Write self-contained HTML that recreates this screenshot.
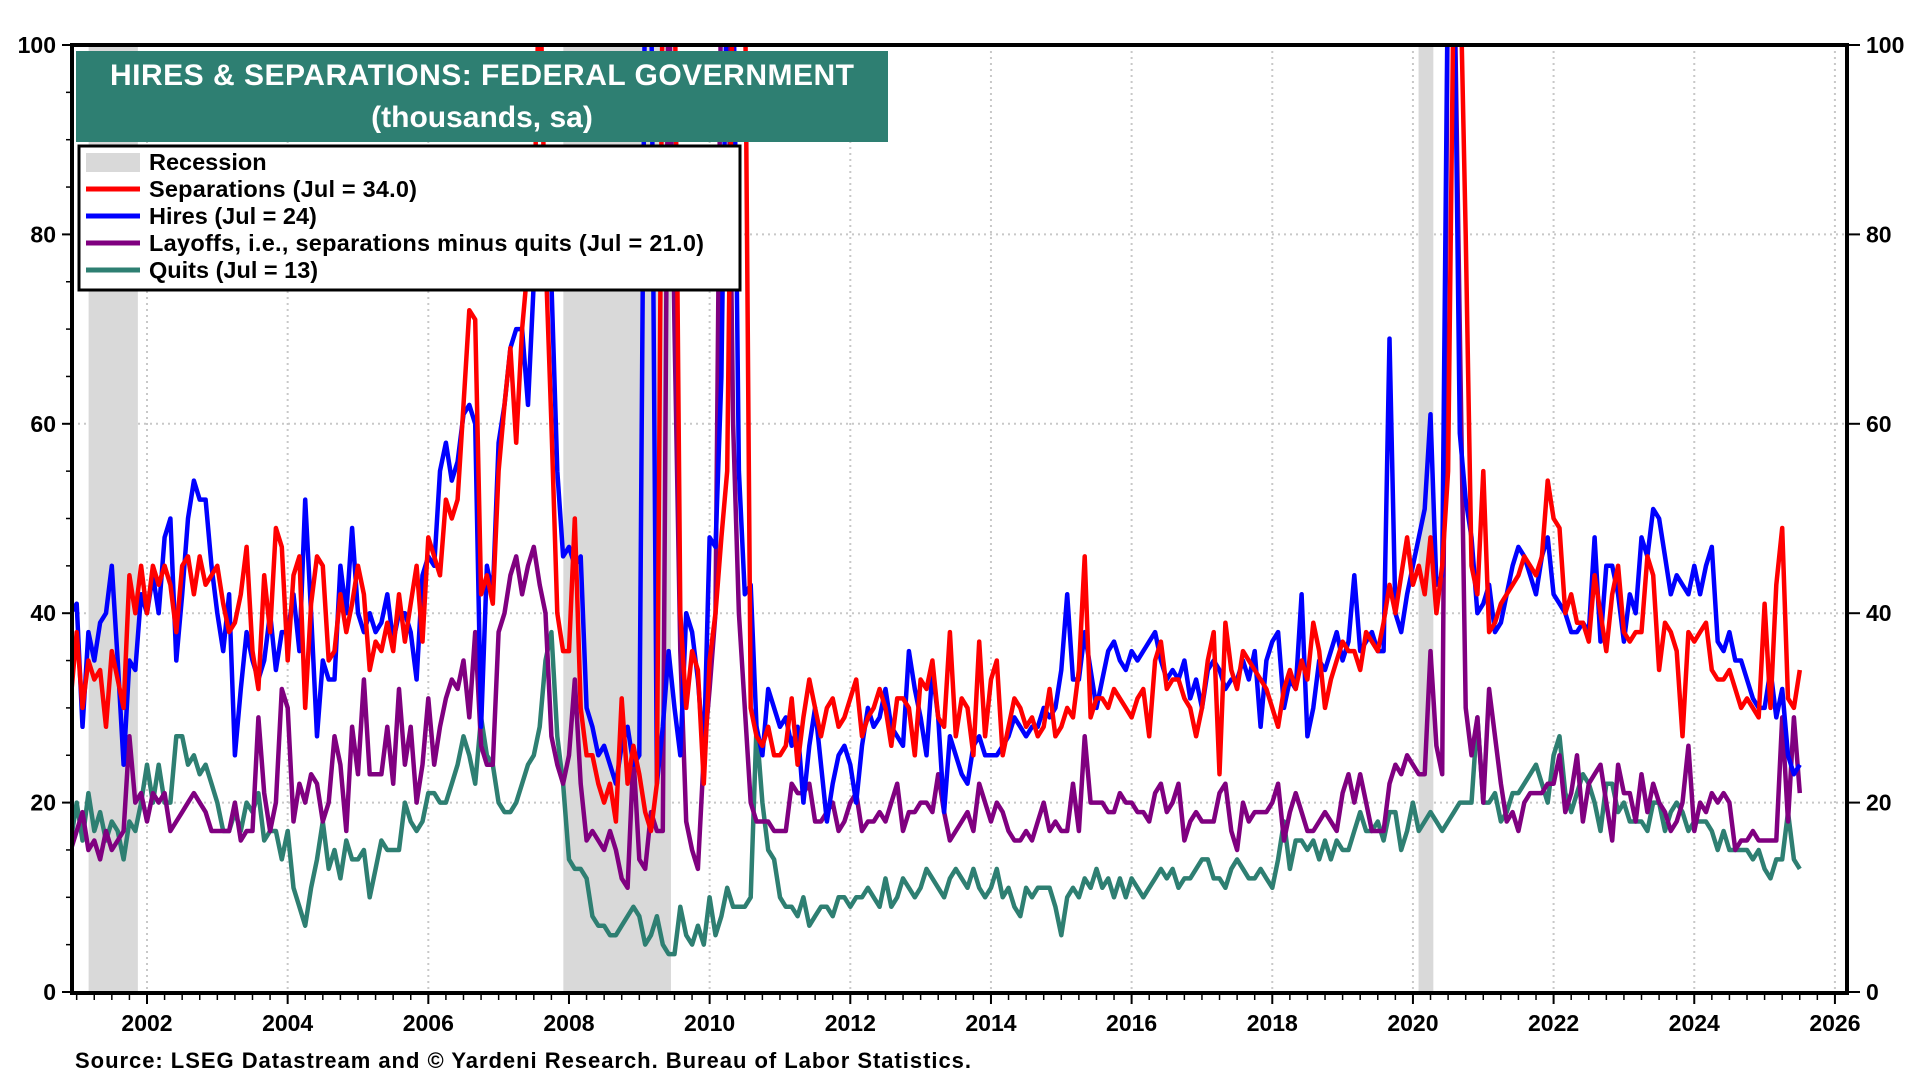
<!DOCTYPE html>
<html><head><meta charset="utf-8"><style>
html,body{margin:0;padding:0;background:#fff;}
svg text{font-family:"Liberation Sans",Arial,sans-serif;font-weight:bold;}
</style></head><body>
<svg id="chart" width="1920" height="1080" viewBox="0 0 1920 1080" xmlns="http://www.w3.org/2000/svg">
<defs><clipPath id="plotclip"><rect x="72" y="45" width="1775" height="948"/></clipPath></defs>
<g id="grid"></g>
<g id="rec" clip-path="url(#plotclip)"></g>
<g id="series" clip-path="url(#plotclip)"></g>
<rect x="72" y="45" width="1775" height="948" fill="none" stroke="#000" stroke-width="4"/>
<g id="axes"></g>
<rect x="76" y="51" width="812" height="91" fill="#2e7f72"/>
<text x="482" y="85" text-anchor="middle" fill="#fff" font-size="30" textLength="744">HIRES &amp; SEPARATIONS: FEDERAL GOVERNMENT</text>
<text x="482" y="127" text-anchor="middle" fill="#fff" font-size="30">(thousands, sa)</text>
<g>
<rect x="79" y="146" width="661" height="144" fill="#fff" stroke="#000" stroke-width="3"/>
<rect x="86" y="153" width="54" height="19" fill="#d9d9d9"/>
<text x="149" y="170" font-size="23.5">Recession</text>
<line x1="86" y1="189" x2="140" y2="189" stroke="#ff0000" stroke-width="5"/>
<text x="149" y="197" font-size="23.5" textLength="268">Separations (Jul = 34.0)</text>
<line x1="86" y1="216" x2="140" y2="216" stroke="#0000ff" stroke-width="5"/>
<text x="149" y="224" font-size="23.5">Hires (Jul = 24)</text>
<line x1="86" y1="243" x2="140" y2="243" stroke="#800080" stroke-width="5"/>
<text x="149" y="251" font-size="23.5" textLength="555">Layoffs, i.e., separations minus quits (Jul = 21.0)</text>
<line x1="86" y1="270" x2="140" y2="270" stroke="#2e7f72" stroke-width="5"/>
<text x="149" y="278" font-size="23.5">Quits (Jul = 13)</text>
</g>
<text x="75" y="1068" font-size="22" textLength="896">Source: LSEG Datastream and © Yardeni Research. Bureau of Labor Statistics.</text>
</svg>
<script>
// monthly data starting Dec 2000
const startYear = 2000 + 11/12;
const hires = [40,
41,28,38,35,39,40,45,35,24,35,34,42,
40,44,40,48,50,35,42,50,54,52,52,45,
40,36,42,25,32,38,35,33,35,40,34,38,
38,42,36,52,40,27,35,33,33,45,40,49,
40,38,40,38,39,42,37,40,40,38,33,44,
46,45,55,58,54,56,61,62,60,28,45,42,
58,62,68,70,70,62,75,80,85,75,55,46,
47,45,46,30,28,25,26,24,22,26,28,24,
25,110,110,22,28,36,30,25,40,38,33,25,
48,47,65,110,110,55,42,43,28,25,32,30,
28,29,26,28,20,26,30,24,18,22,25,26,
24,20,26,30,28,29,32,28,27,26,36,32,
29,25,34,29,19,27,25,23,22,26,27,25,
25,25,26,27,29,28,27,28,28,30,29,30,
34,42,33,33,38,34,30,33,36,37,35,34,
36,35,36,37,38,35,33,34,33,35,31,33,
30,34,35,34,32,33,33,35,33,36,28,35,
37,38,30,33,32,42,27,30,35,34,36,38,
35,37,44,36,37,38,36,36,69,40,38,42,
45,48,51,61,43,44,110,110,59,52,48,40,
41,43,38,39,42,45,47,46,44,42,46,48,
42,41,40,38,38,39,38,48,37,45,45,42,
37,42,40,48,46,51,50,46,42,44,43,42,
45,42,45,47,37,36,38,35,35,33,31,30,
30,34,29,32,25,23,24];
const separations = [31,
38,30,35,33,34,28,36,33,30,44,40,45,
40,45,43,45,43,38,45,46,42,46,43,44,
45,41,38,39,42,47,36,32,44,38,49,47,
35,44,46,30,41,46,45,35,36,42,38,41,
45,42,34,37,36,39,36,42,37,41,45,37,
48,46,44,52,50,52,62,72,71,42,44,41,
55,62,68,58,70,77,80,110,78,60,40,36,
36,50,30,25,25,22,20,22,18,31,22,26,
23,19,17,22,110,110,110,40,30,36,34,22,
35,40,48,55,110,110,110,30,27,26,28,25,
25,26,31,24,29,33,30,27,30,31,28,29,
31,33,27,29,30,32,30,26,31,31,30,25,
33,32,35,29,28,38,27,31,30,25,37,27,
33,35,25,28,31,30,28,29,27,28,32,27,
28,30,29,34,46,29,31,31,30,32,31,30,
29,31,32,27,35,37,32,33,33,31,30,27,
30,35,38,23,39,34,32,36,35,34,33,32,
30,28,32,34,32,35,33,39,36,30,33,35,
37,36,36,34,38,37,36,39,43,40,44,48,
43,45,42,48,40,45,55,110,110,80,45,42,
55,38,39,41,42,43,44,46,45,44,46,54,
50,49,40,42,39,39,37,44,40,36,42,45,
38,37,38,38,46,44,34,39,38,36,27,38,
37,38,39,34,33,33,34,32,30,31,30,29,
41,30,43,49,31,30,34];
const layoffs = [15,
17,19,15,16,14,17,15,16,17,27,20,21,
18,21,20,21,17,18,19,20,21,20,19,17,
17,17,17,20,16,17,17,29,21,17,20,32,
30,18,22,20,23,22,18,20,27,24,17,28,
23,33,23,23,23,28,22,32,24,28,20,24,
31,24,28,31,33,32,35,29,38,26,24,24,
38,40,44,46,42,45,47,43,40,27,24,22,
25,33,22,16,17,16,15,17,15,12,11,25,
14,13,19,17,17,110,70,36,18,15,13,25,
32,40,110,110,60,40,30,20,18,18,18,17,
17,17,22,21,21,22,18,18,19,20,17,18,
20,21,17,18,18,19,18,20,22,17,19,19,
20,20,19,23,19,16,17,18,19,17,22,20,
18,20,19,17,16,16,17,16,18,20,17,18,
17,17,22,17,27,20,20,20,19,19,21,20,
20,19,19,18,21,22,19,20,22,16,18,19,
18,18,18,21,22,17,15,20,18,19,19,19,
20,22,16,19,21,19,17,17,18,19,18,17,
21,23,20,23,20,17,17,17,22,24,23,25,
24,23,23,36,26,23,110,110,70,30,25,29,
20,32,27,22,18,19,17,20,21,21,21,22,
22,25,19,21,25,18,22,23,24,20,16,24,
21,21,18,23,19,22,20,19,17,18,20,26,
17,20,19,21,20,21,20,15,16,16,17,16,
16,16,16,29,18,29,21];
const quits = [16,
20,16,21,17,19,16,18,17,14,18,17,20,
24,20,24,20,20,27,27,24,25,23,24,22,
20,17,17,19,17,20,19,21,16,17,17,14,
17,11,9,7,11,14,18,13,15,12,16,14,
14,15,10,13,16,15,15,15,20,18,17,18,
21,21,20,20,22,24,27,25,22,29,25,24,
20,19,19,20,22,24,25,28,35,38,27,22,
14,13,13,12,8,7,7,6,6,7,8,9,
8,5,6,8,5,4,4,9,6,5,7,5,
10,6,8,11,9,9,9,10,28,20,15,14,
10,9,9,8,10,7,8,9,9,8,10,10,
9,10,10,11,10,9,12,9,10,12,11,10,
11,13,12,11,10,12,13,12,11,13,11,10,
11,13,10,11,9,8,11,10,11,11,11,9,
6,10,11,10,12,11,13,11,12,10,12,10,
12,11,10,11,12,13,12,13,11,12,12,13,
14,14,12,12,11,13,14,13,12,12,13,12,
11,14,18,13,16,16,15,16,14,16,14,16,
15,15,17,19,17,17,18,16,19,19,15,17,
20,17,18,19,18,17,18,19,20,20,20,29,
20,20,21,18,19,21,21,22,23,24,22,20,
25,27,21,19,21,23,22,20,17,22,22,19,
20,18,18,18,17,20,20,17,19,20,19,17,
18,18,18,17,15,17,15,15,15,15,14,15,
13,12,14,14,19,14,13];
const recessionStarts = [2001.17, 2007.92, 2020.08];
const recessionEnds = [2001.87, 2009.45, 2020.29];
const yTicks = [0,20,40,60,80,100];
const xTickYears = [2002,2004,2006,2008,2010,2012,2014,2016,2018,2020,2022,2024,2026];

const NS = 'http://www.w3.org/2000/svg';
const X0 = 147, PXY = 70.33;
function xs(yr){ return X0 + (yr - 2002) * PXY; }
function ys(v){ return 992 - v * 9.47; }
function mk(tag, attrs, parent){ const e = document.createElementNS(NS, tag); for (const k in attrs) e.setAttribute(k, attrs[k]); parent.appendChild(e); return e; }
const grid = document.getElementById('grid'), rec = document.getElementById('rec'), ser = document.getElementById('series'), axes = document.getElementById('axes');

yTicks.forEach(function(v){
  if (v > 0 && v < 100) {
    const g = mk('line', {x1:72, x2:1847, y1:ys(v), y2:ys(v), stroke:'#c8c8c8', 'stroke-width':2, 'stroke-dasharray':'2,4'}, grid);
    
    
  }
  const t1 = mk('line', {x1:62, x2:72, y1:ys(v), y2:ys(v), stroke:'#000', 'stroke-width':2}, axes);
  
  
  const t2 = mk('line', {x1:1847, x2:1860, y1:ys(v), y2:ys(v), stroke:'#000', 'stroke-width':2}, axes);
  
  
  const l = mk('text', {x:56, y:ys(v)+8, 'text-anchor':'end', 'font-size':23}, axes);
  l.textContent = v;
  
  
  const r = mk('text', {x:1866, y:ys(v)+8, 'text-anchor':'start', 'font-size':23}, axes);
  r.textContent = v;
  
  
});
for (let v = 5; v < 100; v += 5) {
  if (v % 20 === 0) continue;
  const m = mk('line', {x1:66, x2:72, y1:ys(v), y2:ys(v), stroke:'#000', 'stroke-width':1.5}, axes);
  
  
}
for (let q = 2001; q <= 2026.1; q += 0.25) {
  const x = xs(q);
  if (x < 74 || x > 1845) continue;
  const m = mk('line', {x1:x, x2:x, y1:993, y2:1000, stroke:'#000', 'stroke-width':1.5}, axes);
  
  
}
xTickYears.forEach(function(yr){
  const x = xs(yr);
  const g = mk('line', {x1:x, x2:x, y1:45, y2:993, stroke:'#c8c8c8', 'stroke-width':2, 'stroke-dasharray':'2,4'}, grid);
  
  
  const t = mk('line', {x1:x, x2:x, y1:993, y2:1004, stroke:'#000', 'stroke-width':2}, axes);
  
  
  const l = mk('text', {x:x, y:1031, 'text-anchor':'middle', 'font-size':23}, axes);
  l.textContent = yr;
  
  
});
recessionStarts.forEach(function(s, i){
  const r = mk('rect', {x:xs(s), y:45, width:xs(recessionEnds[i]) - xs(s), height:948, fill:'#d9d9d9'}, rec);
  
  
});
function line(data, color, name){
  const pts = data.map(function(v, i){ return xs(startYear + i/12).toFixed(1) + ',' + ys(v).toFixed(1); }).join(' ');
  const p = mk('polyline', {points:pts, fill:'none', stroke:color, 'stroke-width':4.5, 'stroke-linejoin':'round'}, ser);
  
  
}
line(quits, '#2e7f72', 'quits-line');
line(layoffs, '#800080', 'layoffs-line');
line(hires, '#0000ff', 'hires-line');
line(separations, '#ff0000', 'separations-line');
</script>
</body></html>
